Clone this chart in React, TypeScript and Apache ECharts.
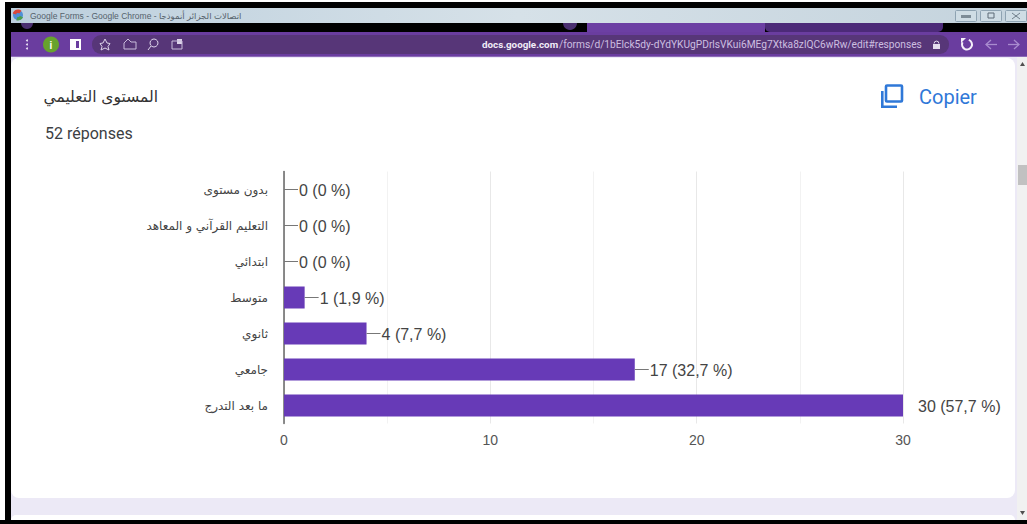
import React, { useEffect, useRef } from "react";
import * as echarts from "echarts";

// Survey question: education level of the respondents
const categories = [
  "بدون مستوى",
  "التعليم القرآني و المعاهد",
  "ابتدائي",
  "متوسط",
  "ثانوي",
  "جامعي",
  "ما بعد التدرج",
];
const counts = [0, 0, 0, 1, 4, 17, 30];
const shares = ["0", "0", "0", "1,9", "7,7", "32,7", "57,7"];
const axisTicks = { min: 0, max: 30, step: 10 };

const questionTitle = "المستوى التعليمي";
const responseCount = "52 réponses";
const windowTitle = "Google Forms - Google Chrome - اتصالات الجزائر أنموذجا";
const urlHost = "docs.google.com";
const urlPath = "/forms/d/1bElck5dy-dYdYKUgPDrlsVKui6MEg7Xtka8zlQC6wRw/edit#responses";

const W = 1027;
const H = 524;
const UI_FONT = '"Liberation Sans", "DejaVu Sans", sans-serif';

const rect = (x: number, y: number, width: number, height: number, fill: any, r: any = 0) => ({
  type: "rect",
  z: -5,
  shape: { x, y, width, height, r },
  style: { fill },
});

const stroke = (type: string, shape: any, color: string, lineWidth = 1.5) => ({
  type,
  z: -4,
  shape,
  style: { stroke: color, fill: "none", lineWidth },
});

const label = (x: number, y: number, text: string, font: string, fill: string, align = "left") => ({
  type: "text",
  z: -3,
  x,
  y,
  style: { text, font, fill, align, verticalAlign: "middle" },
});

// Browser window around the form card
function windowChrome() {
  return [
    rect(0, 0, W, H, "#ffffff"),
    rect(5, 2, W - 5, 6, "#000000"),
    rect(5, 2, 6, H - 2, "#000000"),
    rect(11, 23, W - 11, 9, "#000000"),
    { type: "circle", z: -5, shape: { cx: 27, cy: 23, r: 6 }, style: { fill: "#4a2f70" } },
    { type: "circle", z: -5, shape: { cx: 570, cy: 23, r: 7 }, style: { fill: "#4a2f70" } },
    rect(587, 23, 178, 9, "#6c3fa3"),
    rect(765, 23, 178, 9, "#4c2a78", [0, 0, 5, 5]),
    rect(11, 8, W - 11, 15, new echarts.graphic.LinearGradient(0, 0, 1, 0, [
      { offset: 0, color: "#bccfdd" },
      { offset: 0.5, color: "#d6e1e8" },
      { offset: 1, color: "#c4d3dd" },
    ])),
    rect(11, 32, W - 11, 25, "#6a3d9f"),
    rect(92, 35, 857, 19, "#573678", 9),
    rect(11, 56, W - 11, 1, "#8d6bb8"),

    // Title bar: favicon and window buttons
    { type: "circle", z: -4, shape: { cx: 18, cy: 15, r: 5 }, style: { fill: "#4f8fd6" } },
    { type: "sector", z: -4, shape: { cx: 18, cy: 15, r: 5.5, r0: 2, startAngle: 3.4, endAngle: 5.4 }, style: { fill: "#d9483b" } },
    { type: "sector", z: -4, shape: { cx: 18, cy: 15, r: 5.5, r0: 2, startAngle: 0.4, endAngle: 1.9 }, style: { fill: "#4b9e52" } },
    label(30, 15.5, windowTitle, `8.5px ${UI_FONT}`, "#55626c"),
    rect(955.5, 10.5, 21, 11, "#cfdde5"),
    rect(980.5, 10.5, 21, 11, "#cfdde5"),
    rect(1005.5, 10.5, 21, 11, "#cfdde5"),
    stroke("rect", { x: 955.5, y: 10.5, width: 21, height: 11, r: 1 }, "#8ea3b2", 1),
    stroke("rect", { x: 980.5, y: 10.5, width: 21, height: 11, r: 1 }, "#8ea3b2", 1),
    stroke("rect", { x: 1005.5, y: 10.5, width: 21, height: 11, r: 1 }, "#8ea3b2", 1),
    rect(961, 15, 10, 3, "#7d8c97"),
    stroke("rect", { x: 988, y: 13, width: 6, height: 5 }, "#5c6b76", 1),
    stroke("line", { x1: 1012, y1: 13, x2: 1020, y2: 19 }, "#6f7e89", 1),
    stroke("line", { x1: 1020, y1: 13, x2: 1012, y2: 19 }, "#6f7e89", 1),

    // Toolbar icons
    { type: "circle", z: -4, shape: { cx: 27, cy: 44.5, r: 1 }, style: { fill: "#e8dff3" } },
    { type: "circle", z: -4, shape: { cx: 27, cy: 40.5, r: 1 }, style: { fill: "#e8dff3" } },
    { type: "circle", z: -4, shape: { cx: 27, cy: 48.5, r: 1 }, style: { fill: "#e8dff3" } },
    { type: "circle", z: -4, shape: { cx: 51, cy: 44.5, r: 8 }, style: { fill: "#67a32e" } },
    label(51, 45, "i", `bold 10px ${UI_FONT}`, "#ffffff", "center"),
    rect(70, 39, 11, 11, "#ffffff"),
    rect(76, 41, 3, 7, "#6a3d9f"),
    stroke("polygon", { points: [[105, 39], [107, 43], [110, 43.5], [108, 46.5], [109, 50], [105, 48], [101, 50], [102, 46.5], [100, 43.5], [103, 43]] }, "#ddd3ea", 1),
    stroke("polyline", { points: [[124, 43], [128, 39], [131, 42], [136, 42], [136, 49], [124, 49], [124, 43]] }, "#c9bcdb", 1),
    stroke("circle", { cx: 154, cy: 43, r: 4 }, "#ddd3ea", 1),
    stroke("line", { x1: 151, y1: 46, x2: 148, y2: 50 }, "#ddd3ea", 1),
    stroke("rect", { x: 172, y: 41, width: 10, height: 8 }, "#c9bcdb", 1),
    rect(177, 39, 5, 5, "#ddd3ea"),

    // Address bar
    label(482, 44.5, urlHost, `bold 9.8px Roboto, ${UI_FONT}`, "#f1ecf7"),
    label(559, 44.5, urlPath, `10.2px Roboto, ${UI_FONT}`, "#cdbfe0"),
    rect(933, 44, 7, 5, "#e4dcee"),
    stroke("arc", { cx: 936.5, cy: 43.5, r: 2.4, startAngle: Math.PI, endAngle: 0 }, "#e4dcee", 1),
    stroke("arc", { cx: 967, cy: 44.5, r: 5, startAngle: -1.2, endAngle: 3.6 }, "#f4eff9", 2),
    { type: "polygon", z: -4, shape: { points: [[961, 38], [966, 38], [961, 43]] }, style: { fill: "#f4eff9" } },
    stroke("polyline", { points: [[991, 40], [986, 44.5], [991, 49]] }, "#a98ccf", 1.3),
    stroke("line", { x1: 986, y1: 44.5, x2: 997, y2: 44.5 }, "#a98ccf", 1.3),
    stroke("polyline", { points: [[1014, 40], [1019, 44.5], [1014, 49]] }, "#a98ccf", 1.3),
    stroke("line", { x1: 1008, y1: 44.5, x2: 1019, y2: 44.5 }, "#a98ccf", 1.3),

    // Page behind the card, scrollbar and neighbouring card
    rect(11, 57, W - 11, H - 57, "#ece9f6"),
    rect(1017, 57, 10, H - 57, "#f1f1f1"),
    rect(1018, 165, 9, 20, "#c1c1c1"),
    { type: "polygon", z: -4, shape: { points: [[1020, 66], [1025, 66], [1022.5, 62]] }, style: { fill: "#505050" } },
    { type: "polygon", z: -4, shape: { points: [[1020, 511], [1025, 511], [1022.5, 515]] }, style: { fill: "#505050" } },
    rect(11, 58, 1004, 440, "#ffffff", 8),
    rect(11, 515, 1004, 10, "#ffffff", 8),
    rect(0, 520, W, 4, "#000000"),

    // Card header
    label(158, 97, questionTitle, `15.5px "DejaVu Sans", ${UI_FONT}`, "#333333", "right"),
    label(45, 133, responseCount, `16px Roboto, ${UI_FONT}`, "#3c4043"),

    // Copy action
    stroke("rect", { x: 886, y: 85.5, width: 16, height: 16, r: 1 }, "#2f78d8", 2.6),
    stroke("polyline", { points: [[882.3, 91], [882.3, 106.7], [897, 106.7]] }, "#2f78d8", 2.6),
    label(919, 97, "Copier", `20px Roboto, ${UI_FONT}`, "#2f78d8"),
  ];
}

export default function App() {
  const host = useRef<HTMLDivElement>(null);

  useEffect(() => {
    document.body.style.margin = "0";
    const chart = echarts.init(host.current!, undefined, { renderer: "svg" });
    chart.setOption({
      animation: false,
      graphic: { elements: windowChrome() },
      grid: { left: 284, top: 171.5, width: 619, height: 252, containLabel: false },
      xAxis: {
        type: "value",
        min: axisTicks.min,
        max: axisTicks.max,
        interval: axisTicks.step,
        axisLine: { show: false },
        axisTick: { show: false },
        axisLabel: { color: "#555555", fontSize: 14, margin: 9, fontFamily: UI_FONT },
        splitLine: { show: true, lineStyle: { color: "#e8e8e8", width: 1 } },
        minorTick: { show: false, splitNumber: 2 },
        minorSplitLine: { show: true, lineStyle: { color: "#f2f2f2", width: 1 } },
      },
      yAxis: {
        type: "category",
        inverse: true,
        data: categories,
        axisLine: { show: true, lineStyle: { color: "#666666", width: 1.5 } },
        axisTick: { show: false },
        axisLabel: { color: "#444444", fontSize: 12, margin: 16, fontFamily: '"DejaVu Sans", sans-serif' },
      },
      series: [
        {
          type: "bar",
          data: counts,
          barWidth: 22,
          itemStyle: { color: "#673ab7" },
          label: {
            show: true,
            position: "right",
            distance: 15,
            offset: [0, 1],
            color: "#444444",
            fontSize: 16,
            fontFamily: UI_FONT,
            formatter: (p: any) => `${counts[p.dataIndex]} (${shares[p.dataIndex]} %)`,
          },
          z: 3,
        },
        {
          // Leader from each bar end to its value label
          type: "custom",
          silent: true,
          z: 4,
          data: counts.map((v, i) => [v, i]),
          encode: { x: 0, y: 1 },
          renderItem: (_: any, api: any) => {
            const value = api.value(0);
            if (value === axisTicks.max) return null;
            const [x, y] = api.coord([value, api.value(1)]);
            return {
              type: "line",
              shape: { x1: x, y1: y, x2: x + 14, y2: y },
              style: { stroke: "#777777", lineWidth: 1 },
            };
          },
        },
      ],
    });
    return () => chart.dispose();
  }, []);

  return <div ref={host} style={{ width: W, height: H }} />;
}
